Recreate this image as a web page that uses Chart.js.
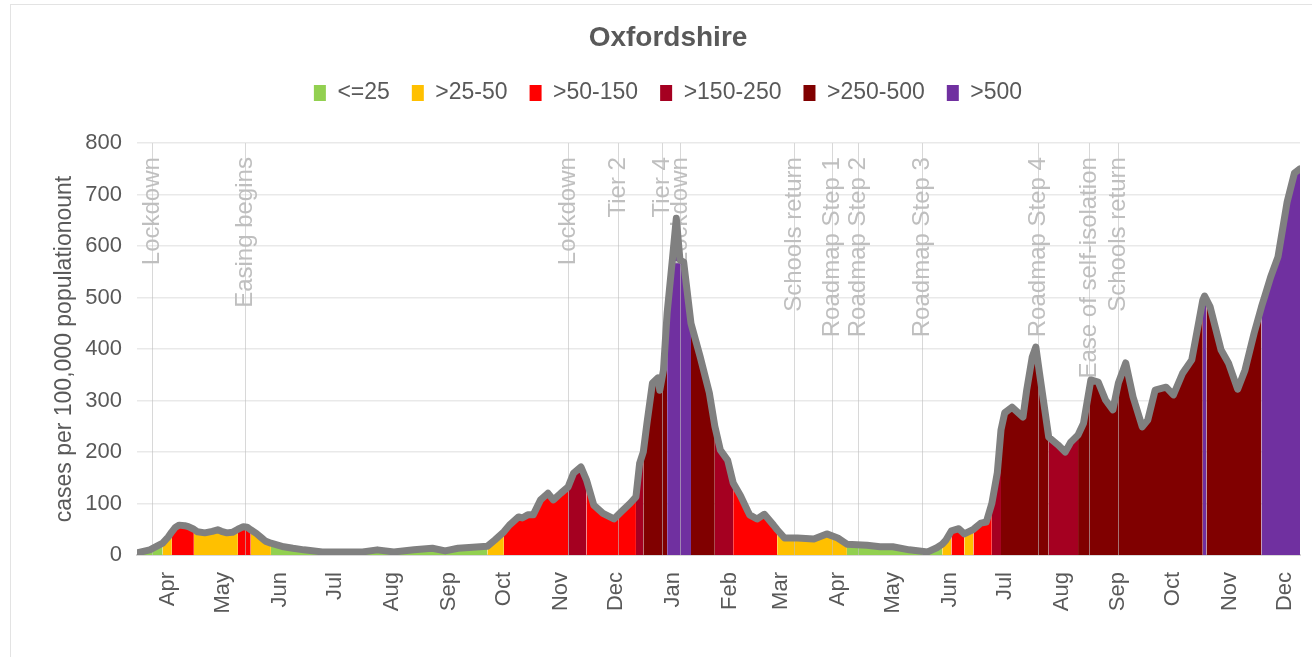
<!DOCTYPE html>
<html>
<head>
<meta charset="utf-8">
<title>Oxfordshire</title>
<script src="https://cdn.jsdelivr.net/npm/chart.js@4.4.0/dist/chart.umd.min.js"></script>
<style>
  html, body { margin: 0; padding: 0; background: #fff; }
</style>
</head>
<body>
<canvas id="chart" width="1312" height="657"></canvas>
<script>
// case rate readings (cases per 100,000 population)
const dates = [
  '2020-03-15','2020-03-22','2020-03-29','2020-04-01','2020-04-03','2020-04-05','2020-04-07','2020-04-10',
  '2020-04-12','2020-04-15','2020-04-17','2020-04-21','2020-04-25','2020-04-28','2020-04-30','2020-05-03',
  '2020-05-06','2020-05-09','2020-05-12','2020-05-14','2020-05-16','2020-05-19','2020-05-22','2020-05-24',
  '2020-05-27','2020-06-03','2020-06-08','2020-06-14','2020-06-24','2020-07-08','2020-07-16','2020-07-24',
  '2020-08-02','2020-08-13','2020-08-23','2020-08-30','2020-09-06','2020-09-14','2020-09-22','2020-09-26',
  '2020-10-01','2020-10-04','2020-10-09','2020-10-11','2020-10-14','2020-10-17','2020-10-21','2020-10-25',
  '2020-10-28','2020-11-01','2020-11-05','2020-11-08','2020-11-12','2020-11-15','2020-11-19','2020-11-24',
  '2020-11-30','2020-12-04','2020-12-09','2020-12-12','2020-12-14','2020-12-16','2020-12-18','2020-12-21',
  '2020-12-24','2020-12-25','2020-12-27','2020-12-29','2021-01-01','2021-01-03','2021-01-05','2021-01-07',
  '2021-01-11','2021-01-16','2021-01-21','2021-01-24','2021-01-27','2021-01-31','2021-02-03','2021-02-07',
  '2021-02-11','2021-02-12','2021-02-16','2021-02-20','2021-02-25','2021-02-27','2021-03-03','2021-03-10',
  '2021-03-19','2021-03-26','2021-04-01','2021-04-06','2021-04-17','2021-04-24','2021-05-01','2021-05-10',
  '2021-05-20','2021-05-25','2021-05-28','2021-05-30','2021-06-02','2021-06-06','2021-06-09','2021-06-14',
  '2021-06-18','2021-06-21','2021-06-24','2021-06-27','2021-06-29','2021-07-01','2021-07-05','2021-07-11',
  '2021-07-13','2021-07-16','2021-07-18','2021-07-20','2021-07-25','2021-07-30','2021-08-03','2021-08-06',
  '2021-08-10','2021-08-13','2021-08-17','2021-08-21','2021-08-25','2021-08-29','2021-09-01','2021-09-05',
  '2021-09-09','2021-09-14','2021-09-17','2021-09-21','2021-09-27','2021-10-01','2021-10-06','2021-10-11',
  '2021-10-15','2021-10-17','2021-10-18','2021-10-19','2021-10-21','2021-10-27','2021-10-31','2021-11-05',
  '2021-11-09','2021-11-14','2021-11-18','2021-11-20','2021-11-23','2021-11-27','2021-12-02','2021-12-06',
  '2021-12-09'
];
const rates = [
  4, 10, 23, 35, 45, 54, 58, 57,
  55, 50, 45, 43, 46, 49, 46, 43,
  44, 50, 55, 54, 49, 42, 33, 27,
  23, 16, 13, 10, 6, 6, 6, 10,
  6, 10, 13, 8, 13, 15, 17, 29,
  45, 58, 74, 72, 78, 78, 107, 120,
  107, 120, 132, 159, 171, 146, 97, 81,
  70, 84, 101, 113, 178, 200, 256, 334,
  344, 320, 359, 470, 579, 654, 573, 569,
  450, 385, 315, 250, 204, 184, 140, 115,
  85, 78, 70, 79, 58, 49, 33, 33,
  31, 41, 33, 21, 19, 16, 16, 10,
  6, 14, 21, 29, 47, 51, 41, 50,
  62, 64, 100, 160, 243, 276, 287, 268,
  320, 384, 404, 353, 229, 214, 200, 219,
  233, 256, 340, 336, 301, 282, 334, 373,
  307, 249, 262, 320, 326, 311, 353, 379,
  456, 495, 503, 496, 482, 398, 373, 322,
  359, 431, 482, 505, 540, 579, 686, 742,
  750
];

const monthTicks = [
  '2020-04-01','2020-05-01','2020-06-01','2020-07-01','2020-08-01','2020-09-01','2020-10-01',
  '2020-11-01','2020-12-01','2021-01-01','2021-02-01','2021-03-01','2021-04-01','2021-05-01',
  '2021-06-01','2021-07-01','2021-08-01','2021-09-01','2021-10-01','2021-11-01','2021-12-01'
];
const monthLabels = ['Apr','May','Jun','Jul','Aug','Sep','Oct','Nov','Dec','Jan','Feb','Mar',
  'Apr','May','Jun','Jul','Aug','Sep','Oct','Nov','Dec'];

const eventDates = ['2020-03-23','2020-05-13','2020-11-05','2020-12-02','2020-12-26','2021-01-05',
  '2021-03-08','2021-03-29','2021-04-12','2021-05-17','2021-07-19','2021-08-16','2021-09-01'];
const eventLabels = ['Lockdown','Easing begins','Lockdown','Tier 2','Tier 4','Lockdown',
  'Schools return','Roadmap Step 1','Roadmap Step 2','Roadmap Step 3','Roadmap Step 4',
  'Ease of self-isolation','Schools return'];

const bandLabels = ['<=25', '>25-50', '>50-150', '>150-250', '>250-500', '>500'];
const bandLimits = [25, 50, 150, 250, 500, Infinity];
const bandColors = ['#92d050', '#ffc000', '#ff0000', '#a50021', '#800000', '#7030a0'];

const day0 = Date.UTC(2020, 2, 15);
function dayNum(s) {
  const p = s.split('-');
  return (Date.UTC(+p[0], +p[1] - 1, +p[2]) - day0) / 864e5;
}
function bandColor(v) {
  for (let i = 0; i < bandLimits.length; i++) {
    if (v <= bandLimits[i]) return bandColors[i];
  }
  return bandColors[bandColors.length - 1];
}

const points = dates.map((d, i) => ({x: dayNum(d), y: rates[i]}));
const tickDays = monthTicks.map(dayNum);
const FONT = '"Liberation Sans", Arial, sans-serif';

Chart.defaults.font.family = FONT;
Chart.defaults.color = '#595959';

// white background + faint frame
const framePlugin = {
  id: 'frame',
  beforeDraw(chart) {
    const c = chart.ctx;
    c.save();
    c.fillStyle = '#fff';
    c.fillRect(0, 0, chart.width, chart.height);
    c.strokeStyle = '#e3e3e3';
    c.lineWidth = 1;
    c.strokeRect(10.5, 4.5, chart.width + 10, chart.height + 10);
    c.restore();
  }
};

// vertical event markers, drawn over the fill and under the grey line
const eventPlugin = {
  id: 'events',
  afterDatasetDraw(chart, args) {
    if (args.index !== 0) return;
    const c = chart.ctx, a = chart.chartArea, x = chart.scales.x;
    c.save();
    eventDates.forEach((d, i) => {
      const px = Math.round(x.getPixelForValue(dayNum(d))) + 0.5;
      c.strokeStyle = 'rgba(190,190,190,0.6)';
      c.lineWidth = 1;
      c.beginPath();
      c.moveTo(px, a.top);
      c.lineTo(px, a.bottom);
      c.stroke();
      c.save();
      c.translate(px, a.top + 14);
      c.rotate(-Math.PI / 2);
      c.textAlign = 'right';
      c.textBaseline = 'middle';
      c.fillStyle = '#bfbfbf';
      c.font = '24px ' + FONT;
      c.fillText(eventLabels[i], 0, 0);
      c.restore();
    });
    c.restore();
  }
};

new Chart(document.getElementById('chart'), {
  type: 'line',
  data: {
    datasets: [
      {
        label: 'band',
        data: points,
        fill: 'origin',
        borderWidth: 0,
        borderColor: 'rgba(0,0,0,0)',
        backgroundColor: bandColors[0],
        pointRadius: 0,
        order: 2,
        segment: {
          backgroundColor: ctx => bandColor(Math.max(ctx.p0.parsed.y, ctx.p1.parsed.y))
        }
      },
      {
        label: 'rate',
        data: points,
        fill: false,
        borderColor: '#808080',
        borderWidth: 7,
        borderJoinStyle: 'round',
        borderCapStyle: 'round',
        pointRadius: 0,
        order: 1
      }
    ]
  },
  options: {
    responsive: false,
    animation: false,
    layout: { padding: { left: 36, right: 12, top: 0, bottom: 0 } },
    scales: {
      x: {
        type: 'linear',
        min: points[0].x,
        max: points[points.length - 1].x,
        afterBuildTicks: s => { s.ticks = tickDays.map(v => ({value: v})); },
        afterFit: s => { s.height = 102; s.paddingLeft = 0; s.paddingRight = 0; },
        grid: { display: false, drawTicks: false },
        border: { display: true, color: '#d9d9d9', width: 2 },
        ticks: {
          autoSkip: false,
          minRotation: 90,
          maxRotation: 90,
          padding: 17,
          color: '#595959',
          font: { size: 22 },
          callback: (v, i) => monthLabels[i]
        }
      },
      y: {
        min: 0,
        max: 800,
        afterFit: s => { s.width = 101; },
        grid: { color: '#e9e9e9', lineWidth: 1.5, drawTicks: false },
        border: { display: false },
        ticks: { stepSize: 100, padding: 15, color: '#595959', font: { size: 22 } },
        title: {
          display: true,
          text: 'cases per 100,000 populationount',
          color: '#595959',
          font: { size: 23 },
          padding: { top: 15, bottom: 0 }
        }
      }
    },
    plugins: {
      title: {
        display: true,
        text: 'Oxfordshire',
        color: '#595959',
        font: { size: 28, weight: 'bold' },
        padding: { top: 21, bottom: 5 }
      },
      legend: {
        onClick: () => {},
        labels: {
          boxWidth: 12,
          boxHeight: 16,
          padding: 22,
          color: '#595959',
          font: { size: 23 },
          generateLabels: () => bandLabels.map((t, i) => ({
            text: t, fillStyle: bandColors[i], strokeStyle: bandColors[i],
            lineWidth: 0, hidden: false, fontColor: '#595959'
          }))
        }
      },
      subtitle: {
        display: true,
        text: '',
        weight: 500,
        font: { size: 10 },
        padding: { top: 0, bottom: 16.5 }
      },
      tooltip: { enabled: false }
    }
  },
  plugins: [framePlugin, eventPlugin]
});
</script>
</body>
</html>
